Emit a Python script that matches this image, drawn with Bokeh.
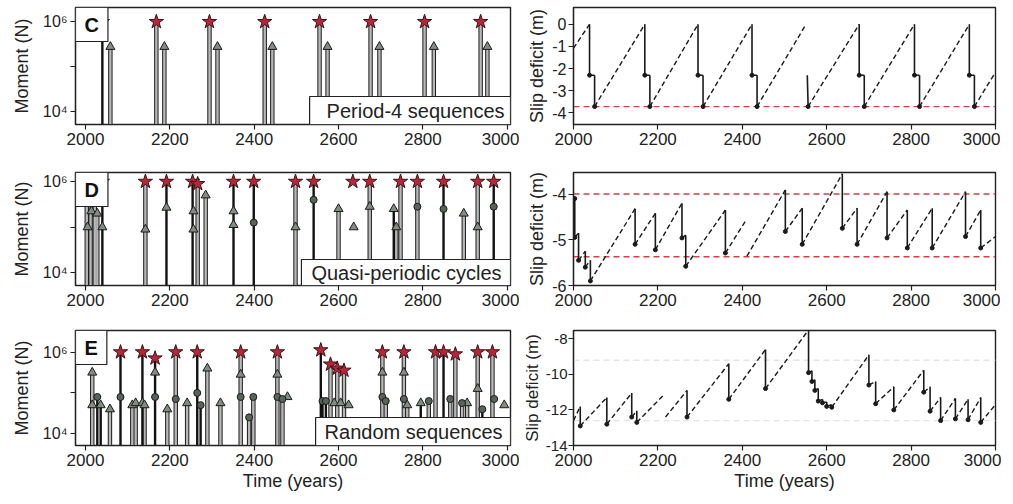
import math
from bokeh.plotting import figure
from bokeh.layouts import gridplot
from bokeh.models import Label, Span, Range1d, FixedTicker
from bokeh.embed import file_html
from bokeh.resources import INLINE

nan = float("nan")
FONT = "Liberation Sans"

# ---------------- shared axis data ----------------
x_ticks = [2000, 2200, 2400, 2600, 2800, 3000]
x_tick_labels = ["2000", "2200", "2400", "2600", "2800", "3000"]
moment_ticks = [4, 5, 6]
moment_tick_labels = ["10⁴", "", "10⁶"]

# ---------------- Panel C : period-4 sequences ----------------
c_years = [2040, 2059, 2168, 2187, 2294, 2313, 2425, 2443, 2555, 2574, 2676, 2697, 2804, 2826, 2937, 2953]
c_levels = [6.0, 5.44, 6.0, 5.44, 6.0, 5.44, 6.0, 5.44, 6.0, 5.44, 6.0, 5.44, 6.0, 5.44, 6.0, 5.44]
c_kinds = ["star", "tri"] * 8
c_stems = ["k", "g", "g", "g", "g", "g", "g", "g", "g", "g", "g", "g", "g", "g", "g", "g"]

c_slip_t = [2000, 2038, 2038, 2050, 2050, 2169, 2169, 2181, 2181, 2295, 2295, 2307, 2307, 2423, 2423,
            2435, 2435, 2551, nan, 2554, 2556, 2677, 2677, 2689, 2689, 2808, 2808, 2820, 2820, 2938,
            2938, 2950, 2950, 3000]
c_slip_s = [-1.08, 0, -2.3, -2.3, -3.72, 0, -2.3, -2.3, -3.72, 0, -2.3, -2.3, -3.72, 0, -2.3,
            -2.3, -3.72, 0, nan, -2.3, -3.72, 0, -2.3, -2.3, -3.72, 0, -2.3, -2.3, -3.72, 0,
            -2.3, -2.3, -3.72, -2.16]
c_slip_ticks = [0, -1, -2, -3, -4]
c_slip_labels = ["0", "-1", "-2", "-3", "-4"]
c_ref_levels = [-3.72]

# ---------------- Panel D : quasi-periodic cycles ----------------
d_years = [2003, 2005, 2012, 2014, 2022, 2028, 2040, 2040, 2142, 2142, 2192, 2192, 2254, 2256, 2256,
           2266, 2285, 2351, 2351, 2351, 2399, 2399, 2498, 2498, 2541, 2541, 2600, 2634, 2636, 2674,
           2674, 2731, 2737, 2747, 2787, 2787, 2849, 2849, 2897, 2930, 2930, 2968, 2968]
d_levels = [6.0, 5.0, 6.0, 5.35, 6.0, 5.3, 6.0, 5.0, 6.0, 4.95, 6.0, 5.43, 6.0, 5.35, 4.95,
            5.95, 5.7, 6.0, 5.35, 5.05, 6.0, 5.1, 6.0, 5.0, 6.0, 5.6, 5.4, 6.0, 5.0, 6.0,
            5.45, 5.4, 5.0, 6.0, 6.0, 5.45, 6.0, 5.4, 5.3, 6.0, 5.0, 6.0, 5.45]
d_kinds = ["star", "tri", "star", "tri", "star", "tri", "star", "tri", "star", "tri", "star", "tri", "star", "tri", "tri",
           "star", "tri", "star", "tri", "tri", "star", "dot", "star", "tri", "star", "dot", "tri", "star", "tri", "star",
           "tri", "tri", "tri", "star", "star", "dot", "star", "dot", "tri", "star", "tri", "star", "dot"]
d_stems = ["g", "n", "g", "n", "g", "g", "k", "n", "g", "n", "k", "n", "k", "n", "n",
           "g", "g", "k", "n", "n", "k", "n", "g", "n", "k", "n", "g", "n", "n", "g",
           "n", "k", "g", "g", "g", "n", "k", "n", "g", "g", "n", "k", "n"]

d_slip_t = [2000, 2003, 2003, 2012, 2012, 2028, 2028, 2040, 2040, 2146, 2146, 2194, 2194, 2257, 2257,
            2266, 2266, 2360, 2360, 2407, nan, 2411, 2502, 2502, 2542, 2542, 2637, 2637, 2672, 2672,
            2743, 2743, 2791, 2791, 2850, 2850, 2929, 2929, 2965, 2965, 3000]
d_slip_s = [-4.05, -4.1, -4.95, -4.85, -5.45, -5.25, -5.6, -5.45, -5.9, -4.32, -5.1, -4.42, -5.22, -4.2, -4.96,
            -4.9, -5.58, -4.35, -5.29, -4.6, nan, -5.36, -3.91, -4.82, -4.31, -5.1, -3.56, -4.75, -4.31, -5.1,
            -3.95, -4.96, -4.35, -5.18, -4.31, -5.18, -3.95, -4.93, -4.35, -5.18, -4.93]
d_slip_ticks = [-4, -5, -6]
d_slip_labels = ["-4", "-5", "-6"]
d_ref_levels = [-4.0, -5.37]

# ---------------- Panel E : random sequences ----------------
e_years = [2016, 2016, 2028, 2036, 2058, 2083, 2083, 2111, 2119, 2135, 2135, 2140, 2165, 2165, 2165,
           2194, 2214, 2214, 2241, 2265, 2265, 2273, 2289, 2320, 2368, 2368, 2368, 2388, 2398, 2455,
           2455, 2455, 2467, 2479, 2558, 2562, 2570, 2581, 2597, 2613, 2590, 2605, 2624, 2704, 2704,
           2704, 2712, 2755, 2755, 2755, 2763, 2795, 2814, 2830, 2849, 2865, 2877, 2893, 2905, 2930,
           2930, 2941, 2965, 2969, 2993]
e_levels = [5.5, 4.7, 4.9, 4.7, 4.6, 6.0, 4.9, 4.7, 4.75, 6.0, 4.75, 4.7, 5.85, 5.5, 4.9,
            4.6, 6.0, 4.85, 4.75, 6.0, 5.0, 4.7, 5.6, 4.75, 6.0, 5.45, 4.9, 4.4, 4.9, 6.0,
            5.45, 4.9, 4.85, 4.9, 6.05, 4.8, 4.8, 5.7, 5.6, 5.55, 4.75, 4.75, 4.7, 6.0, 5.5,
            4.9, 4.8, 6.0, 5.5, 4.85, 4.7, 4.75, 4.8, 6.0, 6.0, 4.85, 5.95, 4.75, 4.75, 6.0,
            5.1, 4.6, 6.0, 4.85, 4.7]
e_kinds = ["tri", "tri", "dot", "tri", "tri", "star", "dot", "tri", "tri", "star", "tri", "tri", "star", "tri", "dot",
           "tri", "star", "dot", "tri", "star", "dot", "dot", "tri", "tri", "star", "tri", "dot", "dot", "dot", "star",
           "tri", "dot", "dot", "tri", "star", "dot", "dot", "star", "star", "star", "tri", "tri", "tri", "star", "tri",
           "dot", "dot", "star", "tri", "dot", "tri", "tri", "dot", "star", "star", "dot", "star", "dot", "tri", "star",
           "tri", "dot", "star", "dot", "tri"]
e_stems = ["g", "n", "k", "k", "g", "k", "n", "g", "g", "k", "n", "g", "k", "n", "n",
           "g", "g", "n", "g", "k", "n", "k", "g", "g", "g", "n", "n", "g", "g", "g",
           "n", "n", "g", "n", "k", "k", "k", "g", "g", "g", "n", "n", "n", "g", "n",
           "n", "g", "g", "n", "n", "g", "k", "g", "g", "k", "g", "g", "g", "g", "g",
           "n", "k", "g", "n", "n"]

e_slip_t = [2000, 2016, 2016, 2079, 2079, 2138, 2138, 2150, 2150, 2212, nan, 2218, 2269, 2269, 2368,
            2368, 2455, 2455, 2557, 2557, 2565, 2565, 2572, 2572, 2580, 2580, 2590, 2590, 2600, 2600,
            2612, 2612, 2700, 2700, 2716, 2716, 2759, 2759, 2830, 2830, 2845, 2845, 2870, 2870, 2905,
            2905, 2935, 2935, 2965, 2965, 3000]
e_slip_s = [-12.6, -11.8, -12.9, -11.3, -12.8, -11.05, -12.4, -12.05, -12.7, -11.2, nan, -12.4, -10.9, -12.4, -9.4,
            -11.4, -8.6, -10.8, -7.5, -9.9, -9.8, -10.4, -10.3, -10.9, -10.8, -11.5, -11.4, -11.6, -11.55, -11.8,
            -11.7, -11.85, -8.9, -10.6, -10.4, -11.65, -10.7, -12.0, -9.76, -11.0, -10.7, -12.07, -11.3, -12.6, -11.35,
            -12.5, -11.4, -12.55, -11.3, -12.7, -11.7]
e_slip_ticks = [-8, -10, -12, -14]
e_slip_labels = ["-8", "-10", "-12", "-14"]
e_faint_levels = [-9.2, -12.6]

# ---------------- layout constants ----------------
LEFT_W, RIGHT_W = 435, 422
ROWS = [  # (top border, frame height, bottom border)
    (7, 117, 30),
    (18, 113, 28),
    (17, 115, 50),
]


def style(p):
    p.grid.visible = False
    p.outline_line_color = "#222222"
    p.outline_line_width = 1.4
    p.background_fill_color = "white"
    p.border_fill_color = "white"
    for ax in p.axis:
        ax.axis_line_color = "#222222"
        ax.axis_line_width = 1.2
        ax.major_tick_out = 5
        ax.major_tick_in = 0
        ax.minor_tick_out = 0
        ax.minor_tick_in = 0
        ax.major_tick_line_color = "#222222"
        ax.major_tick_line_width = 1.2
        ax.major_label_text_font = FONT
        ax.major_label_text_color = "#222222"
        ax.axis_label_text_font = FONT
        ax.axis_label_text_font_style = "normal"
        ax.axis_label_text_font_size = "18px"
        ax.axis_label_text_color = "#222222"
    p.xaxis.major_label_text_font_size = "17px"
    p.yaxis.major_label_text_font_size = "16px"
    p.xaxis.ticker = FixedTicker(ticks=x_ticks)
    p.xaxis.major_label_overrides = dict(zip(x_ticks, x_tick_labels))
    p.xaxis.major_label_standoff = 3


def moment_panel(years, levels, kinds, stems, ylo, yhi, letter, legend, pad, rowspec, xlabel):
    tb, fh, bb = rowspec
    p = figure(frame_width=LEFT_W, frame_height=fh, x_range=Range1d(1976.3, 3007.8),
               y_range=Range1d(ylo, yhi), min_border_left=75, min_border_right=9,
               min_border_top=tb, min_border_bottom=bb,
               output_backend="svg", toolbar_location=None)
    style(p)
    p.yaxis.ticker = FixedTicker(ticks=moment_ticks)
    p.yaxis.major_label_overrides = dict(zip(moment_ticks, moment_tick_labels))
    p.yaxis.axis_label = "Moment (N)"
    p.yaxis.major_label_standoff = 3
    p.yaxis.axis_label_standoff = 8
    if xlabel:
        p.xaxis.axis_label = "Time (years)"
        p.xaxis.axis_label_standoff = 2

    for code in ("g", "k"):
        xs = [y for y, s in zip(years, stems) if s == code]
        ls = [l for l, s in zip(levels, stems) if s == code]
        base = [ylo] * len(xs)
        if code == "g":
            p.segment(xs, base, xs, ls, line_color="#1c1c1c", line_width=4.4)
            p.segment(xs, base, xs, ls, line_color="#b8b8b8", line_width=2.4)
        else:
            p.segment(xs, base, xs, ls, line_color="#111111", line_width=2.4)

    def pick(kind):
        return ([y for y, k in zip(years, kinds) if k == kind],
                [l for l, k in zip(levels, kinds) if k == kind])

    tx, ty = pick("tri")
    p.scatter(tx, ty, marker="triangle", size=9, fill_color="#7f8f7f", line_color="#1a1a1a", line_width=1)
    dx, dy = pick("dot")
    p.scatter(dx, dy, marker="circle", size=7, fill_color="#566656", line_color="#1a1a1a", line_width=1)
    sx, sy = pick("star")
    p.scatter(sx, sy, marker="star", size=15, fill_color="#b8253a", line_color="#3a1414", line_width=1)

    p.add_layout(Label(x=p.x_range.start, y=yhi, text=letter, anchor="top_left",
                       text_font=FONT, text_font_style="bold", text_font_size="20px",
                       text_color="#111111",
                       padding=dict(left=9, right=9, top=6, bottom=6),
                       background_fill_color="white", border_line_color="#222222",
                       border_line_width=1.2))
    p.add_layout(Label(x=p.x_range.end, y=ylo, text=legend, anchor="bottom_right",
                       text_font=FONT, text_font_size="20px", text_color="#222222",
                       padding=pad,
                       background_fill_color="white", border_line_color="#222222",
                       border_line_width=1.2))
    return p


def slip_panel(t, s, ylo, yhi, yticks, ylabels, ref_levels, ref_color, rowspec, xlabel,
               tick_font="16px", label_font="18px", tick_standoff=2, label_standoff=2):
    tb, fh, bb = rowspec
    p = figure(frame_width=RIGHT_W, frame_height=fh, x_range=Range1d(2000, 3000),
               y_range=Range1d(ylo, yhi), min_border_left=53, min_border_right=6,
               min_border_top=tb, min_border_bottom=bb,
               output_backend="svg", toolbar_location=None)
    style(p)
    p.yaxis.ticker = FixedTicker(ticks=yticks)
    p.yaxis.major_label_overrides = dict(zip(yticks, ylabels))
    p.yaxis.axis_label = "Slip deficit (m)"
    p.yaxis.major_label_text_font_size = tick_font
    p.yaxis.axis_label_text_font_size = label_font
    p.yaxis.major_label_standoff = tick_standoff
    p.yaxis.axis_label_standoff = label_standoff
    if xlabel:
        p.xaxis.axis_label = "Time (years)"
        p.xaxis.axis_label_standoff = 2

    for lvl in ref_levels:
        p.add_layout(Span(location=lvl, dimension="width", line_color=ref_color,
                          line_dash="6 4", line_width=1.4, level="underlay"))

    rx0, ry0, rx1, ry1 = [], [], [], []
    fx0, fy0, fx1, fy1 = [], [], [], []
    dots_x, dots_y = [], []
    for i in range(len(t) - 1):
        a, b = s[i], s[i + 1]
        if math.isnan(a) or math.isnan(b):
            continue
        if b > a:
            rx0.append(t[i]); ry0.append(a); rx1.append(t[i + 1]); ry1.append(b)
        else:
            fx0.append(t[i]); fy0.append(a); fx1.append(t[i + 1]); fy1.append(b)
            if b < a:
                dots_x.append(t[i + 1]); dots_y.append(b)
    p.segment(rx0, ry0, rx1, ry1, line_color="#1a1a1a", line_width=1.4, line_dash="5 3")
    p.segment(fx0, fy0, fx1, fy1, line_color="#1a1a1a", line_width=1.6)
    p.scatter(dots_x, dots_y, marker="circle", size=4, fill_color="#1a1a1a", line_color="#1a1a1a")
    return p


pC = moment_panel(c_years, c_levels, c_kinds, c_stems, 3.70, 6.32, "C", "Period-4 sequences",
                  dict(left=17, right=6, top=3, bottom=3), ROWS[0], False)
pD = moment_panel(d_years, d_levels, d_kinds, d_stems, 3.72, 6.20, "D", "Quasi-periodic cycles",
                  dict(left=10, right=9, top=2, bottom=2), ROWS[1], False)
pE = moment_panel(e_years, e_levels, e_kinds, e_stems, 3.71, 6.53, "E", "Random sequences",
                  dict(left=9, right=8, top=3, bottom=3), ROWS[2], True)

sC = slip_panel(c_slip_t, c_slip_s, -4.53, 0.76, c_slip_ticks, c_slip_labels,
                c_ref_levels, "#d0404a", ROWS[0], False)
sD = slip_panel(d_slip_t, d_slip_s, -6.0, -3.53, d_slip_ticks, d_slip_labels,
                d_ref_levels, "#d0404a", ROWS[1], False)
sE = slip_panel(e_slip_t, e_slip_s, -14.0, -7.53, e_slip_ticks, e_slip_labels,
                e_faint_levels, "#e4e4e4", ROWS[2], True,
                tick_font="15px", label_font="17px", tick_standoff=1, label_standoff=1)

layout = gridplot([[pC, sC], [pD, sD], [pE, sE]], toolbar_location=None)

open("out.html", "w").write(file_html(layout, INLINE))
